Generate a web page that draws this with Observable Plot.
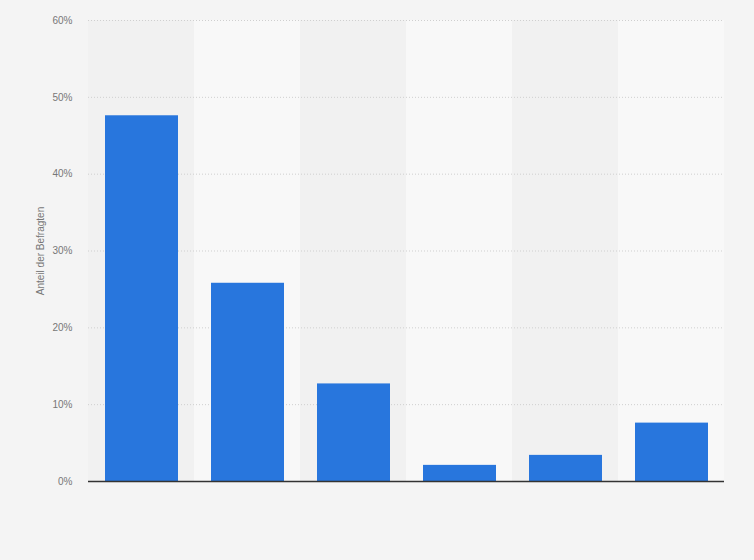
<!DOCTYPE html>
<html>
<head>
<meta charset="utf-8">
<script src="https://cdn.jsdelivr.net/npm/d3@7"></script>
<script src="https://cdn.jsdelivr.net/npm/@observablehq/plot@0.6"></script>
<style>
  html, body { margin: 0; padding: 0; background: #f4f4f4; }
  #chart svg { display: block; }
</style>
</head>
<body>
<div id="chart"></div>
<script>
const categories = ["Kategorie 1", "Kategorie 2", "Kategorie 3", "Kategorie 4", "Kategorie 5", "Kategorie 6"];
const values = [47.6, 25.8, 12.7, 2.1, 3.4, 7.6];
const yTicks = [0, 10, 20, 30, 40, 50, 60];
const yLabel = "Anteil der Befragten";

const data = categories.map((c, i) => ({category: c, value: values[i], band: i % 2}));

const chart = Plot.plot({
  width: 754,
  height: 560,
  marginLeft: 88,
  marginRight: 30,
  marginTop: 20,
  marginBottom: 79,
  style: {background: "#f4f4f4", fontFamily: "'Liberation Sans', Arial, sans-serif", fontSize: "10px", color: "#777"},
  x: {domain: categories, padding: 0, axis: null},
  y: {domain: [0, 60], ticks: yTicks, tickFormat: d => d + "%", label: null, tickSize: 0, tickPadding: 16},
  marks: [
    Plot.barY(data, {x: "category", y1: 0, y2: 60, fill: d => d.band ? "#f8f8f8" : "#f1f1f1"}),
    Plot.gridY(yTicks.filter(t => t > 0), {stroke: "#cfcfcf", strokeOpacity: 1, strokeDasharray: "1,2"}),
    Plot.barY(data, {x: "category", y: "value", fill: "#2876dd", insetLeft: 17, insetRight: 16}),
    Plot.ruleY([0], {stroke: "#333", strokeWidth: 1.3}),
    Plot.axisY({ticks: yTicks, tickFormat: d => d + "%", tickSize: 0, tickPadding: 16, label: null, fill: "#777"}),
    Plot.text([yLabel], {frameAnchor: "left", textAnchor: "middle", dx: -48, rotate: -90, fill: "#777", fontSize: 10})
  ]
});
document.getElementById("chart").appendChild(chart);
</script>
</body>
</html>
